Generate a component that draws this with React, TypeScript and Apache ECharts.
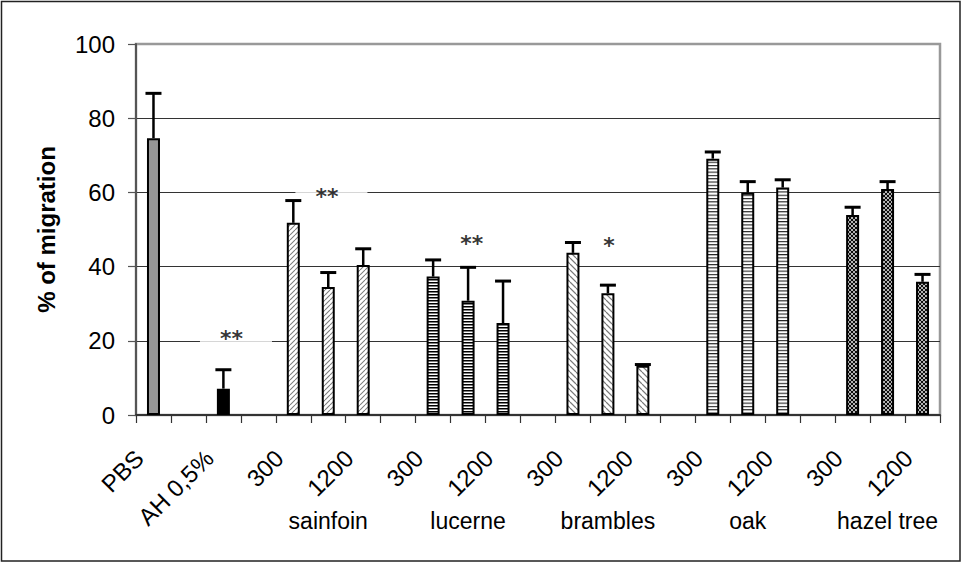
import React, { useEffect, useRef } from 'react';
import * as echarts from 'echarts';

// ---- data ----
const categories = [
  'PBS', '', 'AH 0,5%', '', '300', '', '1200', '', '300', '', '1200', '',
  '300', '', '1200', '', '300', '', '1200', '', '300', '', '1200',
];
const barGroup = [
  'pbs', '', 'ah', '', 'sainfoin', 'sainfoin', 'sainfoin', '',
  'lucerne', 'lucerne', 'lucerne', '', 'brambles', 'brambles', 'brambles', '',
  'oak', 'oak', 'oak', '', 'hazel', 'hazel', 'hazel',
];
const values: (number | null)[] = [
  74.6, null, 7.1, null, 51.8, 34.5, 40.4, null, 37.3, 30.8, 24.8, null,
  43.7, 32.8, 13.3, null, 69.1, 59.9, 61.3, null, 53.9, 60.9, 35.9,
];
const errors: (number | null)[] = [
  12.1, null, 5.1, null, 6.0, 3.9, 4.4, null, 4.5, 9.0, 11.3, null,
  2.8, 2.2, 0.3, null, 1.8, 3.0, 2.1, null, 2.1, 2.0, 2.0,
];
const groupNames = ['sainfoin', 'lucerne', 'brambles', 'oak', 'hazel tree'];
const groupCenters = [5, 9, 13, 17, 21];
const yTicks = { min: 0, max: 100, interval: 20 };
const sigText = ['**', '**', '**', '*'];
const sigX = [2.36, 5.09, 9.23, 13.16];
const sigY = [20.5, 58.8, 46.1, 45.8];

const FONT = '"Liberation Sans", Arial, sans-serif';

function tile(w: number, h: number, draw: (ctx: CanvasRenderingContext2D) => void) {
  const s = 4;
  const c = document.createElement('canvas');
  c.width = Math.round(w * s);
  c.height = Math.round(h * s);
  const ctx = c.getContext('2d')!;
  ctx.scale(s, s);
  ctx.fillStyle = '#fff';
  ctx.fillRect(0, 0, w, h);
  draw(ctx);
  return { image: c.toDataURL(), repeat: 'repeat', imageWidth: w, imageHeight: h };
}

function diag(w: number, color: string, lw: number, up: boolean) {
  return tile(w, w, (ctx) => {
    ctx.strokeStyle = color;
    ctx.lineWidth = lw;
    for (let k = -1; k <= 1; k++) {
      ctx.beginPath();
      if (up) {
        ctx.moveTo(k * w, w);
        ctx.lineTo(k * w + w, 0);
      } else {
        ctx.moveTo(k * w, 0);
        ctx.lineTo(k * w + w, w);
      }
      ctx.stroke();
    }
  });
}

function makeFills(): Record<string, any> {
  return {
    pbs: '#969696',
    ah: '#000000',
    sainfoin: diag(5, '#777', 1, true),
    brambles: diag(6, '#777', 1.2, false),
    lucerne: tile(4, 3, (ctx) => {
      ctx.fillStyle = '#000';
      ctx.fillRect(0, 0, 4, 1.5);
    }),
    oak: tile(4, 3.3, (ctx) => {
      ctx.fillStyle = '#111';
      ctx.fillRect(0, 0, 4, 1.1);
    }),
    hazel: tile(4, 4, (ctx) => {
      ctx.strokeStyle = '#000';
      ctx.lineWidth = 1.1;
      for (let k = -1; k <= 1; k++) {
        ctx.beginPath();
        ctx.moveTo(k * 4, 4);
        ctx.lineTo(k * 4 + 4, 0);
        ctx.stroke();
        ctx.beginPath();
        ctx.moveTo(k * 4, 0);
        ctx.lineTo(k * 4 + 4, 4);
        ctx.stroke();
      }
    }),
  };
}

export default function App() {
  const ref = useRef<HTMLDivElement>(null);
  useEffect(() => {
    const chart = echarts.init(ref.current!, null, { renderer: 'svg' });
    const fills = makeFills();

    const barData = values.map((v, i) =>
      v == null ? '-' : { value: v, itemStyle: { color: fills[barGroup[i]] } }
    );
    const errData: number[][] = [];
    values.forEach((v, i) => {
      const e = errors[i];
      if (v != null && e != null) errData.push([i, v, e]);
    });
    const groupAxisData = categories.map((_, i) => {
      const g = groupCenters.indexOf(i);
      return g >= 0 ? groupNames[g] : '';
    });
    const sigData = sigText.map((t, i) => ({ value: [sigX[i], sigY[i]], name: t }));

    const option: any = {
      animation: false,
      textStyle: { fontFamily: FONT },
      grid: {
        left: 136, right: 22, top: 44, bottom: 148,
        show: true, borderColor: '#999', borderWidth: 2.5, backgroundColor: 'transparent',
      },
      xAxis: [
        {
          type: 'category',
          data: categories,
          position: 'bottom',
          axisLine: { show: true, onZero: false, lineStyle: { color: '#333', width: 2 } },
          axisTick: { show: true, interval: 0, length: 8, lineStyle: { color: '#333', width: 1.2 } },
          axisLabel: {
            interval: 0, rotate: 45, fontSize: 24, color: '#000', fontFamily: FONT,
            margin: 25, padding: [0, 20, 0, 0],
          },
          splitLine: { show: false },
        },
        {
          type: 'category',
          data: groupAxisData,
          position: 'bottom',
          axisLine: { show: false, onZero: false },
          axisTick: { show: false },
          axisLabel: { interval: 0, fontSize: 23, color: '#000', fontFamily: FONT, margin: 94 },
          splitLine: { show: false },
        },
        {
          type: 'value', min: -0.5, max: categories.length - 0.5, show: false,
          axisLine: { onZero: false },
        },
      ],
      yAxis: {
        type: 'value',
        min: yTicks.min, max: yTicks.max, interval: yTicks.interval,
        name: '% of migration',
        nameLocation: 'middle',
        nameGap: 78,
        nameRotate: 90,
        nameTextStyle: { fontSize: 24, fontWeight: 'bold', color: '#000', fontFamily: FONT },
        axisLine: { show: true, onZero: false, lineStyle: { color: '#555', width: 2 } },
        axisTick: { show: true, length: 8, lineStyle: { color: '#555', width: 1.2 } },
        axisLabel: { fontSize: 24, color: '#000', margin: 21, fontFamily: FONT },
        splitLine: { show: true, showMinLine: false, showMaxLine: false, lineStyle: { color: '#333', width: 1 } },
      },
      series: [
        {
          type: 'scatter',
          xAxisIndex: 2,
          z: 1,
          silent: true,
          symbol: 'rect',
          symbolSize: 1,
          itemStyle: { color: 'transparent' },
          data: sigData,
          label: {
            show: true,
            position: 'inside',
            formatter: (p: any) => p.name,
            fontSize: 22,
            fontWeight: 'bold',
            lineHeight: 26,
            color: '#000',
            fontFamily: '"DejaVu Sans", sans-serif',
            backgroundColor: '#fff',
            padding: [2, 29, 2, 20],
          },
        },
        {
          type: 'bar',
          z: 2,
          barWidth: 13,
          data: barData,
          itemStyle: { borderColor: '#000', borderWidth: 2 },
          silent: true,
        },
        {
          type: 'custom',
          z: 3,
          silent: true,
          data: errData,
          encode: { x: 0, y: 1 },
          renderItem: (params: any, api: any) => {
            const x = api.value(0);
            const v = api.value(1);
            const e = api.value(2);
            const p0 = api.coord([x, v]);
            const p1 = api.coord([x, v + e]);
            return {
              type: 'group',
              children: [
                { type: 'line', shape: { x1: p0[0], y1: p0[1], x2: p1[0], y2: p1[1] }, style: { stroke: '#000', lineWidth: 2.5 } },
                { type: 'line', shape: { x1: p1[0] - 8, y1: p1[1], x2: p1[0] + 8, y2: p1[1] }, style: { stroke: '#000', lineWidth: 3 } },
              ],
            };
          },
        },
      ],
      graphic: [
        {
          type: 'rect',
          shape: { x: 1.5, y: 1.5, width: 958.5, height: 559.5 },
          style: { fill: 'none', stroke: '#222', lineWidth: 1.5 },
          silent: true,
        },
      ],
    };
    chart.setOption(option);
    return () => chart.dispose();
  }, []);
  return <div ref={ref} style={{ position: 'absolute', left: 0, top: 0, width: 962, height: 563 }} />;
}
